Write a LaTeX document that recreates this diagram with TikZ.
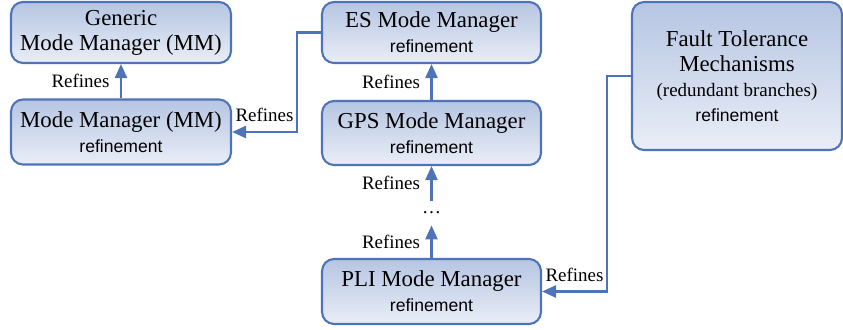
\documentclass[tikz,border=0pt]{standalone}
\usepackage{fontspec}
\setmainfont{Liberation Serif}
\setsansfont{Liberation Sans}
\usetikzlibrary{arrows.meta}
\definecolor{mmblue}{RGB}{79,115,184}
\definecolor{mmtop}{RGB}{182,197,226}
\definecolor{mmbottom}{RGB}{233,238,247}
\newcommand{\titlesize}{\fontsize{13}{14.3}\selectfont}
\newcommand{\refsize}{\fontsize{10.8}{13}\selectfont}
\newcommand{\refinement}{{\sffamily\fontsize{10}{12}\selectfont refinement}}

\begin{document}
\begin{tikzpicture}[x=0.02cm,y=-0.02cm,
  mmbox/.style={rounded corners=0.24cm,draw=mmblue,line width=1.2pt,top color=mmtop,bottom color=mmbottom,align=center,font=\titlesize,inner sep=0pt,minimum width=4.4cm},
  reflabel/.style={font=\refsize,inner sep=1pt},
  refarrow/.style={draw=mmblue,line width=1.4pt,-{Triangle[length=0.28cm,width=0.24cm]}}]
\useasboundingbox (0,0) rectangle (843,329);
% mode manager boxes
\node [mmbox,minimum height=1.22cm] (gen) at (121,32.5) {Generic\\Mode Manager (MM)};
\node [mmbox,minimum height=1.3cm] (mm) at (121,132) {Mode Manager (MM)\\\refinement};
\node [mmbox,minimum width=4.38cm,minimum height=1.22cm] (es) at (431.5,32.5) {ES Mode Manager\\\refinement};
\node [mmbox,minimum width=4.38cm,minimum height=1.28cm] (gps) at (431.5,133) {GPS Mode Manager\\\refinement};
\node [reflabel,minimum height=0.48cm,inner sep=0pt] (dots) at (431.5,213) {\ldots};
\node [mmbox,minimum width=4.38cm,minimum height=1.3cm] (pli) at (431.5,291.5) {PLI Mode Manager\\\refinement};
\node [mmbox,minimum width=4.2cm,minimum height=2.96cm] (ft) at (737,76) {Fault Tolerance\\Mechanisms\\{\refsize (redundant branches)}\\\refinement};
% refines links
\draw [refarrow] (mm.north) -- (gen.south) node [reflabel,midway,left=0.17cm] {Refines};
\draw [refarrow] (gps.north) -- (es.south) node [reflabel,midway,left=0.17cm] {Refines};
\draw [refarrow] (dots.north) -- (gps.south) node [reflabel,midway,left=0.17cm] {Refines};
\draw [refarrow] (pli.north) -- (dots.south) node [reflabel,midway,left=0.17cm] {Refines};
\draw [refarrow] (es.west) -- ++(-24,0) |- (mm.east) node [reflabel,pos=0.75,above=4pt] {Refines};
\draw [refarrow] (ft.west) -- ++(-24,0) |- (pli.east) node [reflabel,pos=0.75,above=4pt] {Refines};
\end{tikzpicture}
\end{document}
